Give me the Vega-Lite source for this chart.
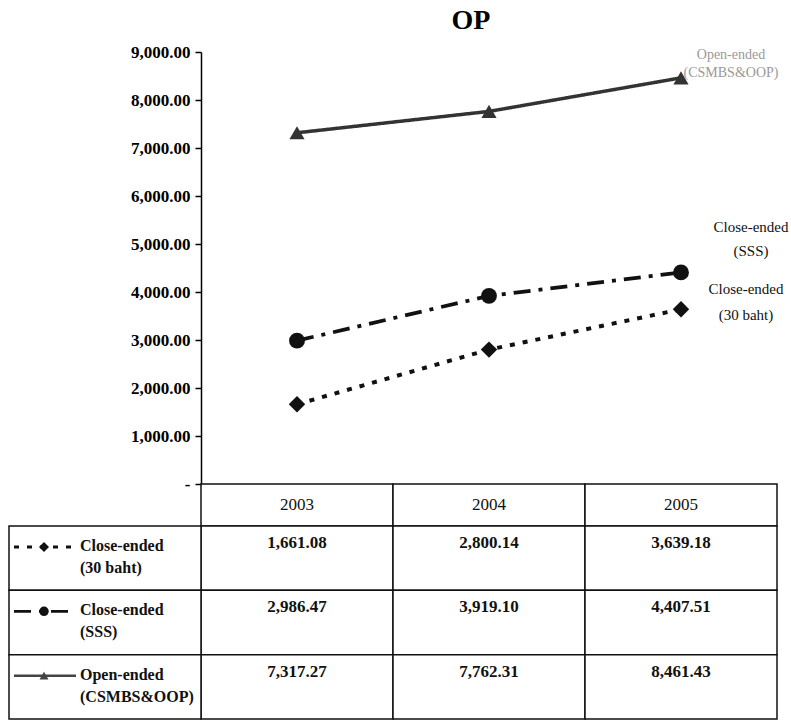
{
  "$schema": "https://vega.github.io/schema/vega-lite/v6.json",
  "padding": {"left": 8, "top": 7, "right": 0, "bottom": 0},
  "background": "white",
  "spacing": 0,
  "bounds": "flush",
  "config": {"font": "Liberation Serif", "view": {"stroke": null}, "concat": {"spacing": 0}},
  "datasets": {
    "vals": [
      {"series": "Close-ended (30 baht)", "year": "2003", "value": 1661.08},
      {"series": "Close-ended (30 baht)", "year": "2004", "value": 2800.14},
      {"series": "Close-ended (30 baht)", "year": "2005", "value": 3639.18},
      {"series": "Close-ended (SSS)", "year": "2003", "value": 2986.47},
      {"series": "Close-ended (SSS)", "year": "2004", "value": 3919.10},
      {"series": "Close-ended (SSS)", "year": "2005", "value": 4407.51},
      {"series": "Open-ended (CSMBS&OOP)", "year": "2003", "value": 7317.27},
      {"series": "Open-ended (CSMBS&OOP)", "year": "2004", "value": 7762.31},
      {"series": "Open-ended (CSMBS&OOP)", "year": "2005", "value": 8461.43}
    ],
    "rows": [
      {"series": "Close-ended (30 baht)", "col": "Series", "label": "Close-ended\n(30 baht)"},
      {"series": "Close-ended (SSS)", "col": "Series", "label": "Close-ended\n(SSS)"},
      {"series": "Open-ended (CSMBS&OOP)", "col": "Series", "label": "Open-ended\n(CSMBS&OOP)"}
    ],
    "years": [{"year": "2003"}, {"year": "2004"}, {"year": "2005"}]
  },
  "resolve": {"scale": {"x": "independent", "y": "independent", "color": "independent", "shape": "independent", "strokeDash": "independent", "size": "independent", "strokeWidth": "independent"}},
  "vconcat": [
    {
      "width": 768,
      "height": 432,
      "title": {"text": "OP", "fontSize": 28, "fontWeight": "bold", "font": "Liberation Serif", "anchor": "middle", "dx": 78, "offset": 8, "color": "black"},
      "data": {"name": "vals"},
      "encoding": {
        "x": {"field": "year", "type": "nominal", "scale": {"domain": ["Series", "2003", "2004", "2005"], "paddingInner": 0, "paddingOuter": 0}, "axis": null},
        "y": {"field": "value", "type": "quantitative", "scale": {"domain": [0, 9000], "nice": false},
          "axis": {"orient": "left", "offset": -192, "values": [0, 1000, 2000, 3000, 4000, 5000, 6000, 7000, 8000, 9000],
            "labelExpr": "datum.value == 0 ? '-' : format(datum.value, ',.2f')",
            "labelFont": "Liberation Serif", "labelFontSize": 17, "labelFontWeight": "bold", "labelColor": "black",
            "domainColor": "black", "domainWidth": 1.5, "tickColor": "black", "tickSize": 6, "tickWidth": 1.5, "grid": false, "title": null, "labelPadding": 5}}
      },
      "layer": [
        {
          "mark": {"type": "line"},
          "encoding": {
            "detail": {"field": "series"},
            "strokeDash": {"field": "series", "type": "nominal", "scale": {"domain": ["Close-ended (30 baht)", "Close-ended (SSS)", "Open-ended (CSMBS&OOP)"], "range": [[5, 8], [17, 8, 4, 8], [1, 0]]}, "legend": null},
            "strokeWidth": {"field": "series", "type": "nominal", "scale": {"domain": ["Close-ended (30 baht)", "Close-ended (SSS)", "Open-ended (CSMBS&OOP)"], "range": [4, 3.5, 2]}, "legend": null},
            "color": {"field": "series", "type": "nominal", "scale": {"domain": ["Close-ended (30 baht)", "Close-ended (SSS)", "Open-ended (CSMBS&OOP)"], "range": ["#111", "#111", "#333"]}, "legend": null}
          }
        },
        {
          "mark": {"type": "point", "filled": true, "opacity": 1},
          "encoding": {
            "shape": {"field": "series", "type": "nominal", "scale": {"domain": ["Close-ended (30 baht)", "Close-ended (SSS)", "Open-ended (CSMBS&OOP)"], "range": ["diamond", "circle", "triangle-up"]}, "legend": null},
            "size": {"field": "series", "type": "nominal", "scale": {"domain": ["Close-ended (30 baht)", "Close-ended (SSS)", "Open-ended (CSMBS&OOP)"], "range": [270, 230, 130]}, "legend": null},
            "color": {"field": "series", "type": "nominal", "scale": {"domain": ["Close-ended (30 baht)", "Close-ended (SSS)", "Open-ended (CSMBS&OOP)"], "range": ["#111", "#111", "#777"]}, "legend": null}
          }
        },
        {
          "transform": [{"filter": "datum.year == '2005' && datum.series == 'Open-ended (CSMBS&OOP)'"}],
          "mark": {"type": "text", "text": ["Open-ended", "(CSMBS&OOP)"], "align": "center", "baseline": "top", "xOffset": 50, "yOffset": -30, "fontSize": 14, "lineHeight": 18, "color": "#999"}
        },
        {
          "transform": [{"filter": "datum.year == '2005' && datum.series == 'Close-ended (SSS)'"}],
          "mark": {"type": "text", "text": ["Close-ended", "(SSS)"], "align": "center", "baseline": "top", "xOffset": 70, "yOffset": -52, "fontSize": 15, "lineHeight": 24, "color": "#111"}
        },
        {
          "transform": [{"filter": "datum.year == '2005' && datum.series == 'Close-ended (30 baht)'"}],
          "mark": {"type": "text", "text": ["Close-ended", "(30 baht)"], "align": "center", "baseline": "top", "xOffset": 65, "yOffset": -27, "fontSize": 15, "lineHeight": 26, "color": "#111"}
        }
      ]
    },
    {
      "width": 768,
      "height": 42,
      "data": {"name": "years"},
      "encoding": {
        "x": {"field": "year", "type": "nominal", "scale": {"domain": ["Series", "2003", "2004", "2005"], "paddingInner": 0, "paddingOuter": 0}, "axis": null}
      },
      "layer": [
        {"mark": {"type": "rect", "fill": "white", "stroke": "#111", "strokeWidth": 1.5}},
        {"mark": {"type": "text", "fontSize": 17, "color": "#111", "baseline": "middle"}, "encoding": {"text": {"field": "year"}}}
      ]
    },
    {
      "width": 768,
      "height": 193,
      "layer": [
        {
          "data": {"name": "vals"},
          "mark": {"type": "rect", "fill": "white", "stroke": "#111", "strokeWidth": 1.5},
          "encoding": {
            "x": {"field": "year", "type": "nominal", "scale": {"domain": ["Series", "2003", "2004", "2005"], "paddingInner": 0, "paddingOuter": 0}, "axis": null},
            "y": {"field": "series", "type": "nominal", "scale": {"domain": ["Close-ended (30 baht)", "Close-ended (SSS)", "Open-ended (CSMBS&OOP)"], "paddingInner": 0, "paddingOuter": 0}, "axis": null}
          }
        },
        {
          "data": {"name": "rows"},
          "mark": {"type": "rect", "fill": "white", "stroke": "#111", "strokeWidth": 1.5},
          "encoding": {
            "x": {"field": "col", "type": "nominal"},
            "y": {"field": "series", "type": "nominal"}
          }
        },
        {
          "data": {"name": "vals"},
          "mark": {"type": "text", "fontSize": 17, "fontWeight": "bold", "color": "#111", "baseline": "middle", "yOffset": 17},
          "encoding": {
            "x": {"field": "year", "type": "nominal"},
            "y": {"field": "series", "type": "nominal", "bandPosition": 0},
            "text": {"field": "value", "type": "quantitative", "format": ",.2f"}
          }
        },
        {
          "data": {"name": "rows"},
          "mark": {"type": "text", "fontSize": 16, "fontWeight": "bold", "color": "#111", "align": "left", "baseline": "top", "lineBreak": "\n", "lineHeight": 22, "xOffset": 71, "yOffset": 12},
          "encoding": {
            "x": {"field": "col", "type": "nominal", "bandPosition": 0},
            "y": {"field": "series", "type": "nominal", "bandPosition": 0},
            "text": {"field": "label"}
          }
        },
        {
          "data": {"name": "rows"},
          "mark": {"type": "rule", "xOffset": 5, "x2Offset": 67, "yOffset": 21},
          "encoding": {
            "x": {"field": "col", "type": "nominal", "bandPosition": 0},
            "x2": {"field": "col", "bandPosition": 0},
            "y": {"field": "series", "type": "nominal", "bandPosition": 0},
            "strokeDash": {"field": "series", "type": "nominal", "scale": {"domain": ["Close-ended (30 baht)", "Close-ended (SSS)", "Open-ended (CSMBS&OOP)"], "range": [[5, 8], [17, 8, 4, 8], [1, 0]]}, "legend": null},
            "strokeWidth": {"field": "series", "type": "nominal", "scale": {"domain": ["Close-ended (30 baht)", "Close-ended (SSS)", "Open-ended (CSMBS&OOP)"], "range": [3, 2.5, 1.5]}, "legend": null},
            "color": {"field": "series", "type": "nominal", "scale": {"domain": ["Close-ended (30 baht)", "Close-ended (SSS)", "Open-ended (CSMBS&OOP)"], "range": ["#111", "#111", "#444"]}, "legend": null}
          }
        },
        {
          "data": {"name": "rows"},
          "mark": {"type": "point", "filled": true, "opacity": 1, "xOffset": 35, "yOffset": 21},
          "encoding": {
            "x": {"field": "col", "type": "nominal", "bandPosition": 0},
            "y": {"field": "series", "type": "nominal", "bandPosition": 0},
            "shape": {"field": "series", "type": "nominal", "scale": {"domain": ["Close-ended (30 baht)", "Close-ended (SSS)", "Open-ended (CSMBS&OOP)"], "range": ["diamond", "circle", "triangle-up"]}, "legend": null},
            "size": {"field": "series", "type": "nominal", "scale": {"domain": ["Close-ended (30 baht)", "Close-ended (SSS)", "Open-ended (CSMBS&OOP)"], "range": [100, 80, 60]}, "legend": null},
            "color": {"field": "series", "type": "nominal", "scale": {"domain": ["Close-ended (30 baht)", "Close-ended (SSS)", "Open-ended (CSMBS&OOP)"], "range": ["#111", "#111", "#777"]}, "legend": null}
          }
        }
      ]
    }
  ]
}
